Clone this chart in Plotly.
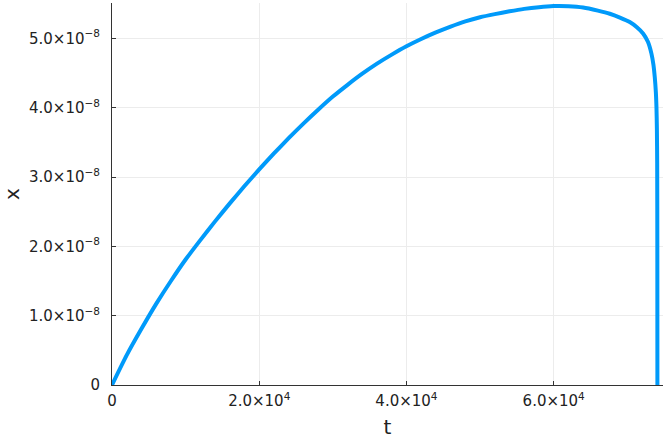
import plotly.graph_objects as go

# data
t = [0, 2000, 4000, 6000, 8000, 10000, 12000, 14000, 16000, 18000, 20000, 22000,
     24000, 26000, 28000, 30000, 32000, 34000, 36000, 38000, 40000, 42000, 44000,
     46000, 48000, 50000, 52000, 54000, 56000, 58000, 60000, 62000, 64000, 66000,
     67620, 69000, 70330, 71300, 72140, 72800, 73280, 73550, 73730, 73880, 73960,
     74020, 74060, 74080, 74090]
x = [0, 0.43e-8, 0.81e-8, 1.17e-8, 1.50e-8, 1.81e-8, 2.09e-8, 2.36e-8, 2.62e-8,
     2.87e-8, 3.11e-8, 3.34e-8, 3.56e-8, 3.77e-8, 3.97e-8, 4.16e-8, 4.33e-8, 4.49e-8,
     4.635e-8, 4.765e-8, 4.885e-8, 4.99e-8, 5.085e-8, 5.17e-8, 5.245e-8, 5.305e-8,
     5.35e-8, 5.39e-8, 5.425e-8, 5.45e-8, 5.465e-8, 5.463e-8, 5.445e-8, 5.40e-8,
     5.355e-8, 5.30e-8, 5.235e-8, 5.16e-8, 5.07e-8, 4.95e-8, 4.78e-8, 4.62e-8,
     4.44e-8, 4.22e-8, 4.01e-8, 3.7e-8, 3.2e-8, 2.0e-8, 0]

x_tickvals = [0, 2e4, 4e4, 6e4]
x_ticktext = ["0", "2.0×10<sup>4</sup>", "4.0×10<sup>4</sup>", "6.0×10<sup>4</sup>"]
y_tickvals = [0, 1e-8, 2e-8, 3e-8, 4e-8, 5e-8]
y_ticktext = ["0"] + [f"{v}.0×10<sup>−8</sup>" for v in range(1, 6)]

fig = go.Figure()
fig.add_trace(go.Scatter(x=t, y=x, mode="lines",
                         line=dict(color="#009AFA", width=4, shape="spline", smoothing=0.6),
                         showlegend=False, hoverinfo="skip"))

font = dict(family="DejaVu Sans", size=15, color="#222222")
title_font = dict(family="DejaVu Sans", size=20, color="#222222")
axis_common = dict(showline=True, linecolor="#333333", linewidth=1, mirror=False,
                   showgrid=True, gridcolor="#ececec", gridwidth=1,
                   ticks="inside", ticklen=4, tickcolor="#333333", tickwidth=1,
                   zeroline=False, tickfont=font, automargin=False)

fig.update_layout(
    width=667, height=441,
    margin=dict(l=112, r=4, t=3, b=56),
    paper_bgcolor="white", plot_bgcolor="white",
    xaxis=dict(range=[0, 74850], tickvals=x_tickvals, ticktext=x_ticktext,
               ticklabelstandoff=2,
               title=dict(text="t", font=title_font, standoff=10),
               **axis_common),
    yaxis=dict(range=[0, 5.51e-8], tickvals=y_tickvals, ticktext=y_ticktext,
               ticklabelstandoff=8,
               title=dict(text="x", font=title_font, standoff=14),
               **axis_common),
)

fig.write_html("out.html", config={"displayModeBar": False},
               post_script="document.body.style.margin='0';")
